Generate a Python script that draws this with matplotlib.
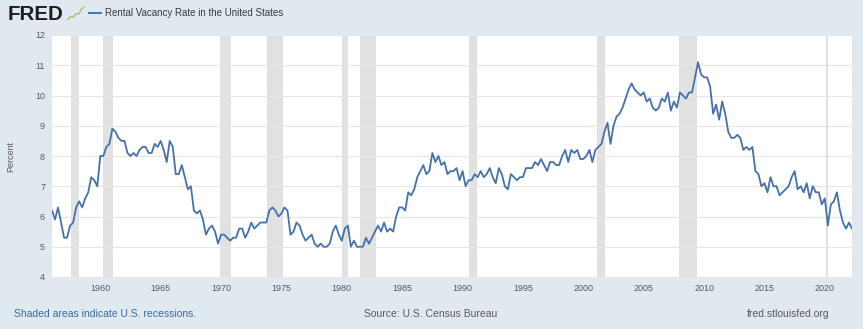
#!/usr/bin/env python3
"""
FRED style chart: Rental Vacancy Rate in the United States (quarterly, percent)
"""

import numpy as np
import matplotlib
matplotlib.use('Agg')
import matplotlib.pyplot as plt
from matplotlib.lines import Line2D

plt.rcParams['font.family'] = ['Liberation Sans', 'DejaVu Sans']

# quarterly values, first point 1956 Q1
start_year = 1956
rate_1950s = [6.2, 5.9, 6.3, 5.8, 5.3, 5.3, 5.7, 5.8, 6.3, 6.5, 6.3, 6.6,
              6.8, 7.3, 7.2, 7.0]
rate_1960s = [8.0, 8.0, 8.3, 8.4, 8.9, 8.8, 8.6, 8.5, 8.5, 8.1, 8.0, 8.1,
              8.0, 8.2, 8.3, 8.3, 8.1, 8.1, 8.4, 8.3, 8.5, 8.2, 7.8, 8.5,
              8.3, 7.4, 7.4, 7.7, 7.3, 6.9, 7.0, 6.2, 6.1, 6.2, 5.9, 5.4,
              5.6, 5.7, 5.5, 5.1]
rate_1970s = [5.4, 5.4, 5.3, 5.2, 5.3, 5.3, 5.6, 5.6, 5.3, 5.5, 5.8, 5.6,
              5.7, 5.8, 5.8, 5.8, 6.2, 6.3, 6.2, 6.0, 6.1, 6.3, 6.2, 5.4,
              5.5, 5.8, 5.7, 5.4, 5.2, 5.3, 5.4, 5.1, 5.0, 5.1, 5.0, 5.0,
              5.1, 5.5, 5.7, 5.4]
rate_1980s = [5.2, 5.6, 5.7, 5.0, 5.2, 5.0, 5.0, 5.0, 5.3, 5.1, 5.3, 5.5,
              5.7, 5.5, 5.8, 5.5, 5.6, 5.5, 6.0, 6.3, 6.3, 6.2, 6.8, 6.7,
              6.9, 7.3, 7.5, 7.7, 7.4, 7.5, 8.1, 7.8, 8.0, 7.7, 7.8, 7.4,
              7.5, 7.5, 7.6, 7.2]
rate_1990s = [7.5, 7.0, 7.2, 7.2, 7.4, 7.3, 7.5, 7.3, 7.4, 7.6, 7.3, 7.1,
              7.6, 7.4, 7.0, 6.9, 7.4, 7.3, 7.2, 7.3, 7.3, 7.6, 7.6, 7.6,
              7.8, 7.7, 7.9, 7.7, 7.5, 7.8, 7.8, 7.7, 7.7, 8.0, 8.2, 7.8,
              8.2, 8.1, 8.2, 7.9]
rate_2000s = [7.9, 8.0, 8.2, 7.8, 8.2, 8.3, 8.4, 8.8, 9.1, 8.4, 9.0, 9.3,
              9.4, 9.6, 9.9, 10.2, 10.4, 10.2, 10.1, 10.0, 10.1, 9.8, 9.9, 9.6,
              9.5, 9.6, 9.9, 9.8, 10.1, 9.5, 9.8, 9.6, 10.1, 10.0, 9.9, 10.1,
              10.1, 10.6, 11.1, 10.7]
rate_2010s = [10.6, 10.6, 10.3, 9.4, 9.7, 9.2, 9.8, 9.4, 8.8, 8.6, 8.6, 8.7,
              8.6, 8.2, 8.3, 8.2, 8.3, 7.5, 7.4, 7.0, 7.1, 6.8, 7.3, 7.0,
              7.0, 6.7, 6.8, 6.9, 7.0, 7.3, 7.5, 6.9, 7.0, 6.8, 7.1, 6.6,
              7.0, 6.8, 6.8, 6.4]
rate_2020s = [6.6, 5.7, 6.4, 6.5, 6.8, 6.2, 5.8, 5.6, 5.8, 5.6]

# NBER recessions (peak month, trough month) as decimal years
recession_start = [1957.58, 1960.25, 1969.92, 1973.83, 1980.0, 1981.5,
                   1990.5, 2001.17, 2007.92, 2020.08]
recession_end = [1958.25, 1961.08, 1970.83, 1975.17, 1980.5, 1982.83,
                 1991.17, 2001.83, 2009.42, 2020.25]

x_ticks = list(range(1960, 2021, 5))
y_ticks = list(range(4, 13))

rate = np.array(rate_1950s + rate_1960s + rate_1970s + rate_1980s
                + rate_1990s + rate_2000s + rate_2010s + rate_2020s)
dates = start_year + np.arange(len(rate)) * 0.25

W, H = 863, 329
BG = '#e1e9f0'
LINE = '#4572a7'
TXT = '#595959'


def fx(x):
    return x / W


def fy(y):
    return 1 - y / H


fig = plt.figure(figsize=(W / 100, H / 100), dpi=100, facecolor=BG)
ax = fig.add_axes([fx(52), fy(277), fx(852 - 52), (277 - 35) / H])
ax.set_facecolor('white')

for s, e in zip(recession_start, recession_end):
    ax.axvspan(s, e, color='#e1e1e1', lw=0, zorder=1)

ax.plot(dates, rate, color=LINE, lw=1.3, zorder=3, solid_joinstyle='round')

ax.set_xlim(dates[0], dates[-1])
ax.set_ylim(4, 12)
ax.set_xticks(x_ticks)
ax.set_yticks(y_ticks)
ax.grid(axis='y', color='#e6e6e6', lw=0.8, zorder=0)
ax.tick_params(length=0, labelsize=6.5, colors=TXT, pad=5)
for sp in ax.spines.values():
    sp.set_visible(False)
ax.set_ylabel('Percent', fontsize=6.5, color=TXT, labelpad=14)

# header: logo + legend
fig.text(fx(8), fy(14), 'FRED', fontsize=14.8, fontweight='bold',
         color='#1e1e1e', va='center', ha='left')
logo = fig.add_axes([fx(67), fy(21), fx(18), 15 / H])
logo.axis('off')
logo_steps = [0.1, 0.3, 0.25, 0.5, 0.45, 0.8, 0.95]
logo.plot(range(len(logo_steps)), logo_steps, color='#9fbf6a', lw=0.9)
logo.set_ylim(0, 1)
fig.add_artist(Line2D([fx(89), fx(101)], [fy(13), fy(13)], color=LINE, lw=1.4))
fig.text(fx(105), fy(13), 'Rental Vacancy Rate in the United States',
         fontsize=7, color='#3a3a3a', va='center', ha='left')

# footer
fig.text(fx(14), fy(314), 'Shaded areas indicate U.S. recessions.',
         fontsize=7.5, color='#3c6a9c', va='center', ha='left')
fig.text(fx(431), fy(314), 'Source: U.S. Census Bureau',
         fontsize=7.5, color=TXT, va='center', ha='center')
fig.text(fx(830), fy(314), 'fred.stlouisfed.org',
         fontsize=7.5, color=TXT, va='center', ha='right')

fig.savefig('out.png', dpi=100, facecolor=BG)
